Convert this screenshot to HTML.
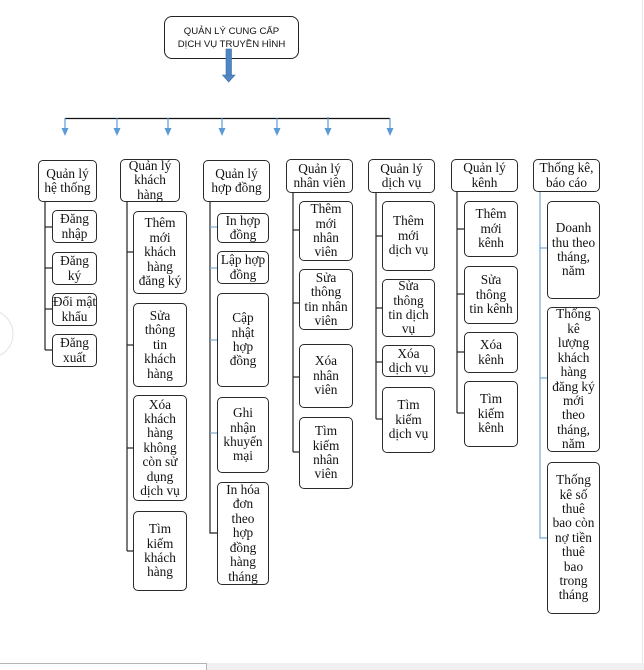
<!DOCTYPE html>
<html><head><meta charset="utf-8">
<style>
html,body{margin:0;padding:0;}
body{width:644px;height:670px;position:relative;background:#fff;overflow:hidden;font-family:"Liberation Serif","Noto Serif CJK SC",serif;color:#111;}
.b{position:absolute;box-sizing:border-box;border:1px solid #2a2a2a;border-radius:5px;background:#fff;display:flex;flex-direction:column;justify-content:center;align-items:center;text-align:center;font-size:13.3px;line-height:14.4px;white-space:nowrap;}
.top{position:absolute;left:164px;top:16px;width:135px;height:43px;box-sizing:border-box;border:1px solid #222;border-radius:8px;font-family:"Liberation Sans",sans-serif;font-size:9.6px;line-height:13px;text-align:center;padding-top:8px;background:#fff;}
svg{position:absolute;left:0;top:0;}
</style></head><body>

<svg width="644" height="670" viewBox="0 0 644 670">
  <circle cx="-11" cy="334" r="24" fill="none" stroke="#e2e2e2" stroke-width="1"/>
  <line x1="642.5" y1="0" x2="642.5" y2="663" stroke="#e6e6e6" stroke-width="1"/>
  <line x1="65" y1="118.5" x2="390" y2="118.5" stroke="#111" stroke-width="1.2"/>
  <g stroke="#5b9bd5" stroke-width="1.2" fill="#5b9bd5">
    <line x1="65" y1="118" x2="65" y2="129"/><polygon points="61.5,128 68.5,128 65,136" stroke="none"/>
    <line x1="117" y1="118" x2="117" y2="129"/><polygon points="113.5,128 120.5,128 117,136" stroke="none"/>
    <line x1="168" y1="118" x2="168" y2="129"/><polygon points="164.5,128 171.5,128 168,136" stroke="none"/>
    <line x1="222" y1="118" x2="222" y2="129"/><polygon points="218.5,128 225.5,128 222,136" stroke="none"/>
    <line x1="277" y1="118" x2="277" y2="129"/><polygon points="273.5,128 280.5,128 277,136" stroke="none"/>
    <line x1="328" y1="117" x2="328" y2="129"/><polygon points="324.5,128 331.5,128 328,136" stroke="none"/>
    <line x1="390" y1="118" x2="390" y2="129"/><polygon points="386.5,128 393.5,128 390,136" stroke="none"/>
  </g>
  <g stroke="#222" stroke-width="1.2" fill="none">
    <polyline points="45,202 45,350"/>
    <line x1="45" y1="227" x2="52" y2="227"/>
    <line x1="45" y1="268" x2="52" y2="268"/>
    <line x1="45" y1="309" x2="52" y2="309"/>
    <line x1="45" y1="350" x2="52" y2="350"/>
    <polyline points="127,202 127,551"/>
    <line x1="127" y1="252" x2="133" y2="252"/>
    <line x1="127" y1="345" x2="133" y2="345"/>
    <line x1="127" y1="448" x2="133" y2="448"/>
    <line x1="127" y1="551" x2="133" y2="551"/>
    <polyline points="210,202 210,533 217,533"/>
    <polyline points="293,193 293,452"/>
    <line x1="293" y1="230" x2="299" y2="230"/>
    <line x1="293" y1="303" x2="299" y2="303"/>
    <line x1="293" y1="377" x2="299" y2="377"/>
    <line x1="293" y1="452" x2="299" y2="452"/>
    <polyline points="376,193 376,419"/>
    <line x1="376" y1="236" x2="382" y2="236"/>
    <line x1="376" y1="308" x2="382" y2="308"/>
    <line x1="376" y1="362" x2="382" y2="362"/>
    <line x1="376" y1="419" x2="382" y2="419"/>
    <polyline points="457,192 457,413"/>
    <line x1="457" y1="229" x2="464" y2="229"/>
    <line x1="457" y1="294" x2="464" y2="294"/>
    <line x1="457" y1="352" x2="464" y2="352"/>
    <line x1="457" y1="413" x2="464" y2="413"/>
  </g>
  <g stroke="#7aa6d0" stroke-width="1.2" fill="none">
    <line x1="210" y1="227" x2="217" y2="227"/>
    <line x1="210" y1="268" x2="217" y2="268"/>
    <line x1="210" y1="340" x2="217" y2="340"/>
    <line x1="210" y1="433" x2="217" y2="433"/>
    <polyline points="540,192 540,538 547,538"/>
    <line x1="540" y1="248" x2="547" y2="248"/>
    <line x1="540" y1="378" x2="547" y2="378"/>
  </g>
</svg>

<div class="top">QUẢN LÝ CUNG CẤP<br>DỊCH VỤ TRUYỀN HÌNH</div>
<svg width="644" height="90" viewBox="0 0 644 90" style="z-index:2">
  <rect x="226" y="49" width="5.5" height="27" fill="#4f86c2" stroke="#3f6fa6" stroke-width="0.6"/>
  <polygon points="222.5,75 235,75 228.7,82" fill="#4f86c2" stroke="#3f6fa6" stroke-width="0.6"/>
</svg>

<div class="b" style="left:38px;top:160px;width:59px;height:42px;">Quản lý<br>hệ thống</div>
<div class="b" style="left:120px;top:159px;width:60px;height:43px;">Quản lý<br>khách<br>hàng</div>
<div class="b" style="left:203px;top:160px;width:67px;height:42px;">Quản lý<br>hợp đồng</div>
<div class="b" style="left:286px;top:159px;width:67px;height:34px;">Quản lý<br>nhân viên</div>
<div class="b" style="left:368px;top:159px;width:67px;height:34px;">Quản lý<br>dịch vụ</div>
<div class="b" style="left:451px;top:159px;width:67px;height:33px;">Quản lý<br>kênh</div>
<div class="b" style="left:533px;top:159px;width:67px;height:33px;">Thống kê,<br>báo cáo</div>

<div class="b" style="left:52px;top:210px;width:45px;height:33px;">Đăng<br>nhập</div>
<div class="b" style="left:52px;top:252px;width:45px;height:33px;">Đăng<br>ký</div>
<div class="b" style="left:52px;top:293px;width:45px;height:33px;">Đổi mật<br>khẩu</div>
<div class="b" style="left:52px;top:334px;width:45px;height:33px;">Đăng<br>xuất</div>

<div class="b" style="left:133px;top:211px;width:54px;height:83px;">Thêm<br>mới<br>khách<br>hàng<br>đăng ký</div>
<div class="b" style="left:133px;top:303px;width:54px;height:84px;">Sửa<br>thông<br>tin<br>khách<br>hàng</div>
<div class="b" style="left:133px;top:395px;width:54px;height:106px;">Xóa<br>khách<br>hàng<br>không<br>còn sử<br>dụng<br>dịch vụ</div>
<div class="b" style="left:133px;top:511px;width:54px;height:80px;">Tìm<br>kiếm<br>khách<br>hàng</div>

<div class="b" style="left:217px;top:213px;width:52px;height:30px;">In hợp<br>đồng</div>
<div class="b" style="left:217px;top:251px;width:52px;height:33px;">Lập hợp<br>đồng</div>
<div class="b" style="left:217px;top:293px;width:52px;height:94px;">Cập<br>nhật<br>hợp<br>đồng</div>
<div class="b" style="left:217px;top:397px;width:52px;height:76px;">Ghi<br>nhận<br>khuyến<br>mại</div>
<div class="b" style="left:217px;top:482px;width:52px;height:103px;">In hóa<br>đơn<br>theo<br>hợp<br>đồng<br>hàng<br>tháng</div>

<div class="b" style="left:299px;top:201px;width:54px;height:60px;">Thêm<br>mới<br>nhân<br>viên</div>
<div class="b" style="left:299px;top:269px;width:54px;height:61px;">Sửa<br>thông<br>tin nhân<br>viên</div>
<div class="b" style="left:299px;top:344px;width:54px;height:64px;">Xóa<br>nhân<br>viên</div>
<div class="b" style="left:299px;top:417px;width:54px;height:72px;">Tìm<br>kiếm<br>nhân<br>viên</div>

<div class="b" style="left:382px;top:201px;width:53px;height:70px;">Thêm<br>mới<br>dịch vụ</div>
<div class="b" style="left:382px;top:279px;width:53px;height:58px;">Sửa<br>thông<br>tin dịch<br>vụ</div>
<div class="b" style="left:382px;top:345px;width:53px;height:32px;">Xóa<br>dịch vụ</div>
<div class="b" style="left:382px;top:387px;width:53px;height:66px;">Tìm<br>kiếm<br>dịch vụ</div>

<div class="b" style="left:464px;top:201px;width:54px;height:56px;">Thêm<br>mới<br>kênh</div>
<div class="b" style="left:464px;top:266px;width:54px;height:58px;">Sửa<br>thông<br>tin kênh</div>
<div class="b" style="left:464px;top:332px;width:54px;height:41px;">Xóa<br>kênh</div>
<div class="b" style="left:464px;top:381px;width:54px;height:66px;">Tìm<br>kiếm<br>kênh</div>

<div class="b" style="left:547px;top:201px;width:53px;height:98px;">Doanh<br>thu theo<br>tháng,<br>năm</div>
<div class="b" style="left:547px;top:307px;width:53px;height:145px;">Thống<br>kê<br>lượng<br>khách<br>hàng<br>đăng ký<br>mới<br>theo<br>tháng,<br>năm</div>
<div class="b" style="left:547px;top:462px;width:53px;height:152px;">Thống<br>kê số<br>thuê<br>bao còn<br>nợ tiền<br>thuê<br>bao<br>trong<br>tháng</div>

<div style="position:absolute;left:0;top:663px;width:644px;height:7px;background:#f0f0f0;"></div>
<div style="position:absolute;left:0;top:663px;width:207px;height:7px;box-sizing:border-box;background:#fff;border-top:1px solid #b4b4b4;border-right:1px solid #b4b4b4;"></div>
</body></html>
